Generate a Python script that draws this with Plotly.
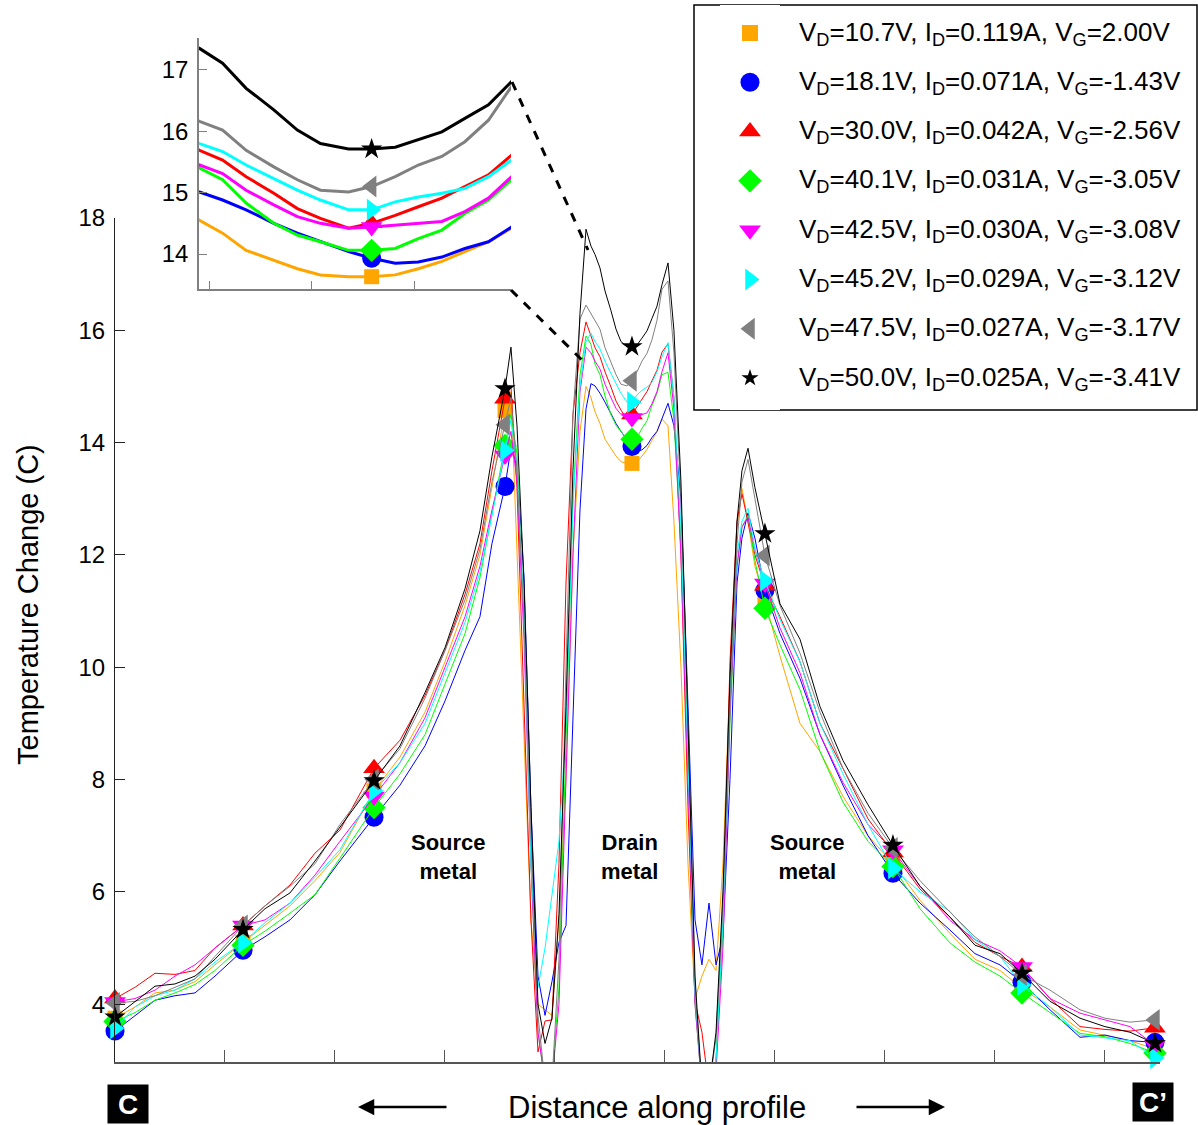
import plotly.graph_objects as go

# ---------------- data ----------------
distance = [0.0, 1.82, 3.64, 5.46, 7.28, 9.10, 11.65, 13.65, 15.92, 18.20, 20.47, 23.57,
            25.93, 28.21, 30.03, 31.85, 33.21, 34.30, 35.49, 36.03, 36.58, 37.22, 37.85,
            38.49, 39.13, 39.76, 40.40, 41.04, 41.67, 42.31, 42.86, 43.31, 43.68, 44.13,
            44.59, 45.13, 45.59, 46.04, 46.59, 47.04, 47.50, 47.95, 48.41, 48.86, 49.32,
            49.77, 50.32, 50.86, 51.50, 52.14, 52.78, 53.41, 54.05, 54.69, 55.32, 55.96,
            56.60, 57.05, 57.60, 58.23, 59.14, 60.51, 62.33, 64.15, 66.24, 68.52, 70.79,
            73.25, 75.98, 78.25, 80.53, 82.53, 85.08, 87.81, 90.08, 92.36, 94.63]

marker_x = [0.0, 11.65, 23.57, 35.49, 47.04, 59.14, 70.79, 82.53, 94.63]

labels = [
    "V<sub>D</sub>=10.7V, I<sub>D</sub>=0.119A, V<sub>G</sub>=2.00V",
    "V<sub>D</sub>=18.1V, I<sub>D</sub>=0.071A, V<sub>G</sub>=-1.43V",
    "V<sub>D</sub>=30.0V, I<sub>D</sub>=0.042A, V<sub>G</sub>=-2.56V",
    "V<sub>D</sub>=40.1V, I<sub>D</sub>=0.031A, V<sub>G</sub>=-3.05V",
    "V<sub>D</sub>=42.5V, I<sub>D</sub>=0.030A, V<sub>G</sub>=-3.08V",
    "V<sub>D</sub>=45.2V, I<sub>D</sub>=0.029A, V<sub>G</sub>=-3.12V",
    "V<sub>D</sub>=47.5V, I<sub>D</sub>=0.027A, V<sub>G</sub>=-3.17V",
    "V<sub>D</sub>=50.0V, I<sub>D</sub>=0.025A, V<sub>G</sub>=-3.41V",
]

t_orange = [3.75, 3.95, 4.2, 4.25, 4.4, 4.7, 5.1, 5.4, 5.75, 6.2, 6.7, 7.8,
            8.4, 9.2, 10.1, 11.1, 12.0, 13.2, 14.57, 14.9, 12.0, 8.5, 5.5,
            4.0, 3.9, 3.8, 5.5, 8.0, 12.0, 14.2, 15.0, 14.8, 14.55, 14.34,
            14.06, 13.90, 13.76, 13.66, 13.63, 13.63, 13.66, 13.76, 13.88, 14.04, 14.20,
            14.42, 14.3, 12.6, 10.0, 6.5, 4.1, 4.5, 4.8, 4.6, 6.5, 9.8,
            12.5, 13.18, 12.6, 11.8, 11.19, 10.2, 9.0, 8.5, 7.7, 7.0, 6.5,
            5.85, 5.26, 4.8, 4.6, 4.28, 3.95, 3.54, 3.45, 3.35, 3.2]
t_blue = [3.52, 3.8, 4.07, 4.15, 4.2, 4.5, 4.96, 5.2, 5.5, 5.95, 6.55, 7.33,
          7.9, 8.6, 9.4, 10.3, 10.9, 12.2, 13.22, 13.9, 13.6, 11.6, 7.5,
          4.5, 3.8, 4.4, 5.1, 5.4, 9.0, 12.8, 14.6, 15.05, 15.01, 14.88,
          14.72, 14.50, 14.34, 14.20, 14.04, 13.93, 13.85, 13.87, 13.95, 14.09, 14.20,
          14.44, 14.7, 14.3, 13.0, 9.3, 5.5, 4.7, 5.8, 4.7, 5.2, 8.0,
          11.5, 12.3, 12.75, 12.3, 11.37, 10.6, 9.8, 8.8, 7.9, 7.0, 6.33,
          5.8, 5.32, 4.9, 4.7, 4.39, 3.9, 3.41, 3.45, 3.35, 3.32]
t_red = [4.1, 4.3, 4.55, 4.53, 4.6, 5.0, 5.4, 5.75, 6.12, 6.69, 7.1, 8.2,
         8.7, 9.5, 10.3, 11.3, 12.2, 13.5, 14.78, 15.0, 13.2, 9.5, 5.5,
         3.15, 3.7, 3.72, 6.5, 11.5, 14.5, 15.6, 16.15, 15.9, 15.69, 15.53,
         15.26, 14.99, 14.74, 14.58, 14.42, 14.50, 14.63, 14.77, 14.91, 15.10, 15.29,
         15.61, 15.76, 14.8, 12.0, 7.5, 4.04, 3.5, 2.5, 3.0, 5.5, 10.1,
         12.6, 13.09, 12.6, 12.0, 11.45, 10.9, 10.1, 9.0, 8.2, 7.3, 6.7,
         6.05, 5.55, 5.1, 4.85, 4.66, 4.1, 3.6, 3.55, 3.52, 3.58]
t_green = [3.69, 3.85, 4.07, 4.2, 4.35, 4.6, 5.05, 5.3, 5.62, 5.95, 6.6, 7.5,
           8.1, 8.8, 9.7, 10.6, 11.6, 12.7, 13.95, 14.5, 13.8, 10.8, 6.5,
           3.5, 2.6, 2.6, 4.3, 8.8, 13.0, 15.2, 15.9, 15.75, 15.40, 15.21,
           14.83, 14.50, 14.31, 14.20, 14.06, 14.06, 14.09, 14.25, 14.39, 14.66, 14.88,
           15.21, 15.25, 14.4, 12.2, 8.5, 4.0, 2.5, 2.5, 3.0, 5.3, 9.0,
           11.8, 12.5, 12.7, 11.9, 11.05, 10.4, 9.6, 8.5, 7.6, 6.9, 6.45,
           5.7, 5.09, 4.75, 4.5, 4.2, 3.85, 3.48, 3.42, 3.3, 3.13]
t_magenta = [4.04, 4.1, 4.25, 4.5, 4.7, 5.0, 5.4, 5.5, 5.8, 6.3, 6.9, 7.7,
             8.3, 9.1, 10.0, 10.9, 11.8, 12.8, 13.77, 14.2, 13.3, 10.5, 6.5,
             3.5, 2.6, 2.6, 4.0, 8.0, 12.0, 14.9, 15.7, 15.6, 15.45, 15.31,
             15.04, 14.80, 14.61, 14.50, 14.42, 14.44, 14.47, 14.50, 14.53, 14.69, 14.91,
             15.26, 15.6, 14.6, 12.0, 8.0, 4.0, 2.5, 2.5, 2.8, 5.0, 9.2,
             11.8, 12.5, 12.67, 12.1, 11.49, 10.7, 9.9, 8.8, 7.95, 7.2, 6.74,
             6.1, 5.49, 5.15, 4.95, 4.66, 4.1, 3.84, 3.72, 3.6, 3.27]
t_cyan = [3.57, 3.95, 4.15, 4.25, 4.45, 4.75, 5.1, 5.45, 5.8, 6.26, 6.75, 7.8,
          8.3, 9.0, 9.9, 10.8, 11.7, 12.7, 13.86, 14.4, 13.6, 11.0, 6.5,
          4.3, 5.0, 5.9, 6.9, 9.0, 12.9, 15.0, 15.8, 15.95, 15.80, 15.67,
          15.45, 15.23, 15.04, 14.88, 14.72, 14.72, 14.85, 14.93, 14.99, 15.07, 15.26,
          15.53, 15.78, 14.8, 12.5, 8.5, 4.2, 2.5, 2.5, 3.0, 5.5, 9.5,
          12.0, 12.6, 12.83, 12.1, 11.54, 10.85, 10.1, 9.0, 8.1, 7.2, 6.42,
          6.0, 5.65, 5.15, 4.85, 4.34, 3.95, 3.45, 3.4, 3.35, 3.04]
t_gray = [4.02, 4.05, 4.15, 4.3, 4.45, 4.85, 5.4, 5.75, 6.1, 6.5, 7.2, 8.0,
          8.55, 9.45, 10.3, 11.2, 12.1, 13.3, 14.32, 14.8, 13.5, 10.8, 7.0,
          3.8, 2.6, 2.6, 4.8, 10.0, 14.5, 16.2, 16.45, 16.3, 16.16, 16.02,
          15.69, 15.42, 15.21, 15.04, 15.01, 15.10, 15.26, 15.45, 15.59, 15.83, 16.18,
          16.73, 16.88, 15.6, 13.0, 9.0, 4.3, 2.5, 2.5, 3.4, 5.8, 9.3,
          12.2, 13.3, 13.7, 13.0, 11.99, 11.1, 10.25, 9.2, 8.2, 7.4, 6.78,
          6.2, 5.64, 5.2, 4.85, 4.52, 4.25, 3.9, 3.75, 3.68, 3.72]
t_black = [3.77, 4.05, 4.32, 4.36, 4.5, 4.8, 5.33, 5.7, 5.98, 6.55, 7.15, 7.98,
           8.6, 9.55, 10.35, 11.4, 12.43, 13.75, 14.96, 15.7, 14.3, 11.5, 7.5,
           4.0, 3.3, 3.75, 5.6, 9.3, 13.5, 16.3, 17.8, 17.5, 17.35, 17.11,
           16.70, 16.35, 16.02, 15.80, 15.71, 15.71, 15.74, 15.86, 15.99, 16.21, 16.43,
           16.81, 17.2, 16.0, 13.3, 9.0, 4.5, 2.5, 2.5, 3.5, 6.0, 9.8,
           12.6, 13.5, 13.9, 13.2, 12.38, 11.13, 10.5, 9.3, 8.34, 7.55, 6.83,
           6.1, 5.55, 5.05, 4.9, 4.55, 4.05, 3.75, 3.6, 3.5, 3.3]

series = [t_orange, t_blue, t_red, t_green, t_magenta, t_cyan, t_gray, t_black]
colors = ["#FFA500", "#0000FF", "#FF0000", "#00FF00", "#FF00FF", "#00FFFF", "#808080", "#000000"]
symbols = ["square", "circle", "triangle-up", "diamond", "triangle-down",
           "triangle-right", "triangle-left", "star"]
msizes = [15, 19, 19, 18, 19, 19, 19, 16]

y_ticks = [4, 6, 8, 10, 12, 14, 16, 18]
x_ticks = [0, 10, 20, 30, 40, 50, 60, 70, 80, 90]
inset_y_ticks = [14, 15, 16, 17]
inset_x_ticks = [43.87, 45.87, 47.87]

FONT = "Liberation Sans, Arial, sans-serif"

# ---------------- figure ----------------
fig = go.Figure()

for ys, c, sym, ms in zip(series, colors, symbols, msizes):
    mx = [x for x in distance if x in marker_x]
    my = [y for x, y in zip(distance, ys) if x in marker_x]
    fig.add_trace(go.Scatter(x=distance, y=ys, mode="lines",
                             line=dict(color=c, width=1), xaxis="x", yaxis="y",
                             hoverinfo="skip"))
    fig.add_trace(go.Scatter(x=mx, y=my, mode="markers", cliponaxis=False, opacity=1,
                             marker=dict(symbol=sym, color=c, size=ms, opacity=1,
                                         line=dict(width=0)),
                             xaxis="x", yaxis="y"))
    fig.add_trace(go.Scatter(x=distance, y=ys, mode="lines",
                             line=dict(color=c, width=3), xaxis="x2", yaxis="y2",
                             hoverinfo="skip"))
    fig.add_trace(go.Scatter(x=mx, y=my, mode="markers", cliponaxis=True, opacity=1,
                             marker=dict(symbol=sym, color=c, size=ms, opacity=1,
                                         line=dict(width=0)),
                             xaxis="x2", yaxis="y2"))

# legend markers (manual legend)
fig.add_trace(go.Scatter(x=[0.5] * len(labels), y=list(range(len(labels))), mode="markers",
                         marker=dict(symbol=symbols, color=colors, opacity=1,
                                     size=[16, 19, 19, 18, 19, 19, 19, 13], line=dict(width=0)),
                         xaxis="x3", yaxis="y3", cliponaxis=False, opacity=1))

W, H = 1198, 1125
ML, MR, MT, MB = 115, 38, 5, 63
PW, PH = W - ML - MR, H - MT - MB


def px(xp):
    return (xp - ML) / PW


def py(yp):
    return (H - MB - yp) / PH


annotations = []
for i, lab in enumerate(labels):
    annotations.append(dict(x=px(797), y=i, xref="paper", yref="y3", text=lab,
                            showarrow=False, xanchor="left", yanchor="middle",
                            font=dict(family=FONT, size=26, color="black")))

annotations += [
    dict(x=px(28), y=py(605), xref="paper", yref="paper", text="Temperature Change (C)",
         textangle=-90, showarrow=False, xanchor="center", yanchor="middle",
         font=dict(family=FONT, size=29, color="black")),
    dict(x=px(657), y=py(1107), xref="paper", yref="paper", text="Distance along profile",
         showarrow=False, xanchor="center", yanchor="middle",
         font=dict(family=FONT, size=31, color="black")),
    dict(x=px(128), y=py(1104), xref="paper", yref="paper", text="<b>C</b>",
         showarrow=False, bgcolor="black", width=38, height=36, xanchor="center",
         yanchor="middle", font=dict(family=FONT, size=28, color="white")),
    dict(x=px(1153), y=py(1102), xref="paper", yref="paper", text="<b>C’</b>",
         showarrow=False, bgcolor="black", width=38, height=36, xanchor="center",
         yanchor="middle", font=dict(family=FONT, size=28, color="white")),
    dict(x=px(358), y=py(1107), xref="paper", yref="paper", text="", showarrow=True,
         ax=90, ay=0, arrowhead=2, arrowsize=1.3, arrowwidth=2.5, arrowcolor="black"),
    dict(x=px(945), y=py(1107), xref="paper", yref="paper", text="", showarrow=True,
         ax=-90, ay=0, arrowhead=2, arrowsize=1.3, arrowwidth=2.5, arrowcolor="black"),
    dict(x=30.39, y=6.62, xref="x", yref="y", text="<b>Source<br>metal</b>", showarrow=False,
         xanchor="center", yanchor="middle", font=dict(family=FONT, size=22, color="black")),
    dict(x=46.86, y=6.62, xref="x", yref="y", text="<b>Drain<br>metal</b>", showarrow=False,
         xanchor="center", yanchor="middle", font=dict(family=FONT, size=22, color="black")),
    dict(x=62.97, y=6.62, xref="x", yref="y", text="<b>Source<br>metal</b>", showarrow=False,
         xanchor="center", yanchor="middle", font=dict(family=FONT, size=22, color="black")),
]

shapes = [
    dict(type="rect", xref="paper", yref="paper", x0=px(694), x1=px(1197), y0=py(410), y1=py(5),
         line=dict(color="black", width=1.5), fillcolor="white", layer="below"),
    dict(type="line", xref="paper", yref="paper", x0=px(512), y0=py(82), x1=px(588), y1=py(250),
         line=dict(color="black", width=3, dash="dash")),
    dict(type="line", xref="paper", yref="paper", x0=px(511), y0=py(290), x1=px(587), y1=py(365),
         line=dict(color="black", width=3, dash="dash")),
]

axis_common = dict(showgrid=False, zeroline=False, showline=True, ticks="inside",
                   automargin=False, tickfont=dict(family=FONT, size=24, color="black"))

fig.update_layout(
    width=W, height=H, autosize=False,
    margin=dict(l=ML, r=MR, t=MT, b=MB, autoexpand=False),
    plot_bgcolor="white", paper_bgcolor="white",
    showlegend=False,
    font=dict(family=FONT, color="black"),
    xaxis=dict(domain=[0, 1], range=[0, 95.09], anchor="y", tickvals=x_ticks,
               showticklabels=False, ticklen=12, linecolor="#555555", tickcolor="#555555",
               linewidth=1.5, **axis_common),
    yaxis=dict(domain=[0, py(218)], range=[2.97, 18], anchor="x", tickvals=y_ticks,
               ticklen=10, linecolor="#222222", tickcolor="#222222", linewidth=1.2,
               ticklabelstandoff=4, **axis_common),
    xaxis2=dict(domain=[px(199), px(511)], range=[43.67, 49.76], anchor="y2",
                tickvals=inset_x_ticks, showticklabels=False, ticklen=8,
                linecolor="#808080", tickcolor="#808080", linewidth=1.5, **axis_common),
    yaxis2=dict(domain=[py(289), py(38)], range=[13.43, 17.52], anchor="x2",
                tickvals=inset_y_ticks, ticklen=8, linecolor="#808080", tickcolor="#808080",
                linewidth=1.5, ticklabelstandoff=4, **axis_common),
    xaxis3=dict(domain=[px(720), px(780)], range=[0, 1], anchor="y3", visible=False),
    yaxis3=dict(domain=[py(410), py(5)], range=[7.649, -0.568], anchor="x3", visible=False),
    annotations=annotations,
    shapes=shapes,
)

fig.write_html("out.html", config={"displayModeBar": False},
               post_script="document.body.style.margin='0';document.body.style.overflow='hidden';")
